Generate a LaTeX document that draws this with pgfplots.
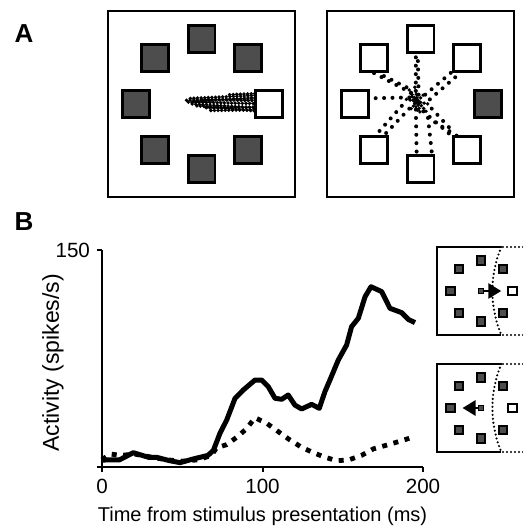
\documentclass[border=0pt]{standalone}
\usepackage{fontspec}
\setmainfont{Liberation Sans}
\usepackage{pgfplots}
\pgfplotsset{compat=1.18}
\usetikzlibrary{arrows.meta}
\definecolor{sqfill}{RGB}{77,77,77}
\pgfplotsset{
  boxax/.style={scale only axis, width=93.5pt, height=93pt,
    xmin=-1, xmax=1, ymin=-1, ymax=1, ticks=none, clip=false,
    axis line style={line width=1.4pt}},
  target/.style={only marks, mark=square*, mark size=6.7pt,
    mark options={fill=sqfill, draw=black, line width=1.4pt}},
  opentarget/.style={target, mark options={fill=white, draw=black, line width=1.4pt}},
  traj/.style={black, line width=2pt, line cap=round, dash pattern=on 0pt off 4.2pt},
  dense/.style={black, line width=1.9pt, line cap=round, dash pattern=on 0pt off 1.8pt},
  insetax/.style={scale only axis, width=44pt, height=44pt,
    xmin=-1, xmax=1, ymin=-1, ymax=1, hide axis, clip=false},
  smalltarget/.style={only marks, mark=square*, mark size=2.2pt,
    mark options={fill=sqfill, draw=black, line width=1pt}},
  smallopen/.style={smalltarget, mark options={fill=white, draw=black, line width=1pt}},
  rfline/.style={black, line width=1.2pt, line cap=round, dash pattern=on 0pt off 2pt},
}

\begin{document}
\begin{tikzpicture}
\useasboundingbox (0pt,0pt) rectangle (261.5pt,264.5pt);
\node[font=\fontsize{13}{13}\selectfont\bfseries] at (12pt,247.5pt) {A};
\node[font=\fontsize{13}{13}\selectfont\bfseries] at (12pt,153.5pt) {B};

% --- panel A, one target lit
\begin{axis}[boxax, at={(54pt,166pt)}, anchor=south west]
  \addplot[target] coordinates {(0,0.7) (0.495,0.495) (0.495,-0.495) (0,-0.7)
    (-0.495,-0.495) (-0.7,0) (-0.495,0.495)};
  \addplot[opentarget] coordinates {(0.72,0)};
  \addplot[dense] coordinates {(-0.16,0.04) (0.77,0.06)};
  \addplot[dense] coordinates {(-0.14,0.02) (0.77,0.0)};
  \addplot[dense] coordinates {(-0.1,0.0) (0.76,-0.05)};
  \addplot[dense] coordinates {(-0.12,0.06) (0.75,0.1)};
  \addplot[dense] coordinates {(-0.05,-0.02) (0.75,-0.09)};
  \addplot[dense] coordinates {(0.0,0.05) (0.77,0.03)};
  \addplot[dense] coordinates {(0.05,-0.04) (0.77,-0.03)};
  \addplot[dense] coordinates {(-0.08,0.03) (0.76,0.08)};
  \addplot[dense] coordinates {(0.1,-0.07) (0.74,-0.06)};
  \addplot[dense] coordinates {(0.3,0.1) (0.77,0.12)};
  \addplot[dense] coordinates {(0.68,-0.1) (0.78,0.1)};
  \addplot[dense] coordinates {(0.72,-0.08) (0.8,0.08)};
\end{axis}

% --- panel A, all other targets
\begin{axis}[boxax, at={(163.5pt,166pt)}, anchor=south west]
  \addplot[opentarget] coordinates {(0,0.7) (0.495,0.495) (0.495,-0.495) (0,-0.7)
    (-0.495,-0.495) (-0.7,0) (-0.495,0.495)};
  \addplot[target] coordinates {(0.72,0)};
  % centre clump
  \addplot[dense] coordinates {(-0.12,0.15) (-0.02,-0.1)};
  \addplot[dense] coordinates {(-0.1,-0.05) (0.05,0.12)};
  \addplot[dense] coordinates {(-0.15,0.05) (0.08,0.0)};
  \addplot[dense] coordinates {(-0.06,0.18) (0.0,-0.12)};
  \addplot[dense] coordinates {(-0.09,0.1) (0.06,-0.08)};
  % up
  \addplot[traj] coordinates {(-0.05,0.05) (-0.05,0.62)};
  \addplot[traj] coordinates {(-0.02,0.1) (-0.03,0.55)};
  \addplot[dense] coordinates {(-0.1,0.72) (-0.1,0.64) (-0.05,0.62)};
  % up-left
  \addplot[traj] coordinates {(-0.1,0.12) (-0.55,0.36)};
  \addplot[traj] coordinates {(-0.15,0.18) (-0.45,0.33)};
  \addplot[dense] coordinates {(-0.61,0.49) (-0.6,0.41) (-0.45,0.36)};
  % up-right
  \addplot[traj] coordinates {(0.05,0.1) (0.4,0.4)};
  \addplot[traj] coordinates {(0.1,0.05) (0.42,0.33)};
  \addplot[dense] coordinates {(0.42,0.4) (0.53,0.55)};
  % left
  \addplot[traj] coordinates {(-0.12,0.07) (-0.6,0.06)};
  \addplot[dense] coordinates {(-0.75,0.04) (-0.62,0.07)};
  % down-left
  \addplot[traj] coordinates {(-0.12,-0.05) (-0.45,-0.4)};
  \addplot[traj] coordinates {(-0.2,-0.02) (-0.5,-0.36)};
  \addplot[dense] coordinates {(-0.55,-0.56) (-0.45,-0.42)};
  % down
  \addplot[traj] coordinates {(-0.05,-0.06) (-0.04,-0.6)};
  \addplot[traj] coordinates {(0.09,-0.24) (0.125,-0.56)};
  \addplot[dense] coordinates {(-0.04,-0.6) (-0.03,-0.66) (0.01,-0.64)};
  % down-right
  \addplot[traj] coordinates {(0.03,-0.08) (0.4,-0.4)};
  \addplot[traj] coordinates {(0.08,-0.15) (0.45,-0.38)};
  \addplot[traj] coordinates {(0.12,-0.05) (0.35,-0.3)};
  \addplot[dense] coordinates {(0.38,-0.38) (0.5,-0.55)};
  \addplot[dense] coordinates {(0.42,-0.36) (0.52,-0.5)};
\end{axis}

% --- panel B, activity
\begin{axis}[at={(51pt,31pt)}, anchor=south west, scale only axis,
  width=160.5pt, height=108.5pt, xmin=0, xmax=200, ymin=0, ymax=150,
  axis x line=bottom, axis y line=left, axis line style={-, line width=1pt},
  xtick={0,100,200}, ytick={0,150}, yticklabels={,150},
  tick align=outside, major tick length=2.5pt,
  tick style={black, line width=1pt},
  tick label style={font=\fontsize{10.3}{12}\selectfont},
  /pgf/number format/assume math mode=true,
  xlabel={Time from stimulus presentation (ms)},
  ylabel={Activity (spikes/s)},
  xlabel style={font=\fontsize{10}{12}\selectfont,
    at={(axis description cs:0.5,-0.226)}, anchor=center},
  ylabel style={font=\fontsize{11.5}{12}\selectfont,
    at={(axis description cs:-0.153,0.48)}, anchor=center},
  clip=false]
  \addplot[black, line width=2.5pt, line join=round] coordinates {
    (0,4.8) (11,5) (19.5,9.9) (29,6.7) (34,6.7) (42,4.4) (48.6,3.0)
    (57,5.6) (66,8.0) (69.4,11.5) (73.5,23.3) (77.7,32.5) (82.9,47.5)
    (88,53.2) (95.3,60.1) (99.5,60.1) (103.6,55.5) (107.8,47.5) (112,46.8)
    (116,49.8) (120.2,42.8) (124.4,40.1) (130.6,43.3) (135.4,40.6)
    (138.9,52.1) (142,60.1) (147.2,73.9) (152.4,84.3) (155.5,97)
    (159.7,102.8) (163.9,117.7) (167.6,124.6) (174.3,121.2) (179.4,109.7)
    (186.7,106.7) (190.9,102) (195,99.8)};
  \addplot[black, line width=2.4pt, dash pattern=on 2.5pt off 3.3pt] coordinates {
    (0,5) (5,9) (12,8) (20,9) (30,7) (40,5) (50,4) (60,5) (68,8)
    (71.4,13.2) (77.7,15.5) (83.9,20.5) (90.1,26.5) (95.3,34.1)
    (102.6,30.2) (109.9,24.4) (117.1,18.7) (124.4,13.6) (131.7,9.9)
    (139,6.7) (146.2,4.4) (153.5,4.8) (161.8,8.1) (169,12.5) (177.3,15.1)
    (185.6,17.8) (193.9,20.7)};
\end{axis}

% --- inset: saccade into the field
\begin{axis}[insetax, at={(218.5pt,97pt)}, anchor=south west]
  \addplot[black, line width=1.1pt] coordinates {(0.46,1) (-1,1) (-1,-1) (0.46,-1)};
  \addplot[rfline, smooth] coordinates {(0.46,1) (0.37,0.75) (0.31,0.5)
    (0.27,0.25) (0.26,0) (0.27,-0.25) (0.31,-0.5) (0.37,-0.75) (0.46,-1)};
  \addplot[rfline] coordinates {(0.5,1) (0.96,1)};
  \addplot[rfline] coordinates {(0.5,-1) (0.96,-1)};
  \addplot[smalltarget] coordinates {(0,0.7) (0.5,0.5) (0.5,-0.5) (0,-0.7)
    (-0.5,-0.5) (-0.7,0) (-0.5,0.5)};
  \addplot[smallopen] coordinates {(0.71,0)};
  \addplot[black, line width=1.4pt, -{Triangle[length=6.5pt,width=7.5pt]}]
    coordinates {(0.04,0) (0.46,0)};
  \addplot[only marks, mark=square*, mark size=1.3pt,
    mark options={fill=sqfill, draw=black, line width=0.7pt}] coordinates {(0,0)};
\end{axis}

% --- inset: saccade away from the field
\begin{axis}[insetax, at={(218.5pt,38.5pt)}, anchor=south west]
  \addplot[black, line width=1.1pt] coordinates {(0.46,1) (-1,1) (-1,-1) (0.46,-1)};
  \addplot[rfline, smooth] coordinates {(0.46,1) (0.37,0.75) (0.31,0.5)
    (0.27,0.25) (0.26,0) (0.27,-0.25) (0.31,-0.5) (0.37,-0.75) (0.46,-1)};
  \addplot[rfline] coordinates {(0.5,1) (0.96,1)};
  \addplot[rfline] coordinates {(0.5,-1) (0.96,-1)};
  \addplot[smalltarget] coordinates {(0,0.7) (0.5,0.5) (0.5,-0.5) (0,-0.7)
    (-0.5,-0.5) (-0.7,0) (-0.5,0.5)};
  \addplot[smallopen] coordinates {(0.71,0)};
  \addplot[black, line width=1.4pt, -{Triangle[length=6.5pt,width=7.5pt]}]
    coordinates {(-0.04,0) (-0.42,0)};
  \addplot[only marks, mark=square*, mark size=1.3pt,
    mark options={fill=sqfill, draw=black, line width=0.7pt}] coordinates {(0,0)};
\end{axis}
\end{tikzpicture}
\end{document}
